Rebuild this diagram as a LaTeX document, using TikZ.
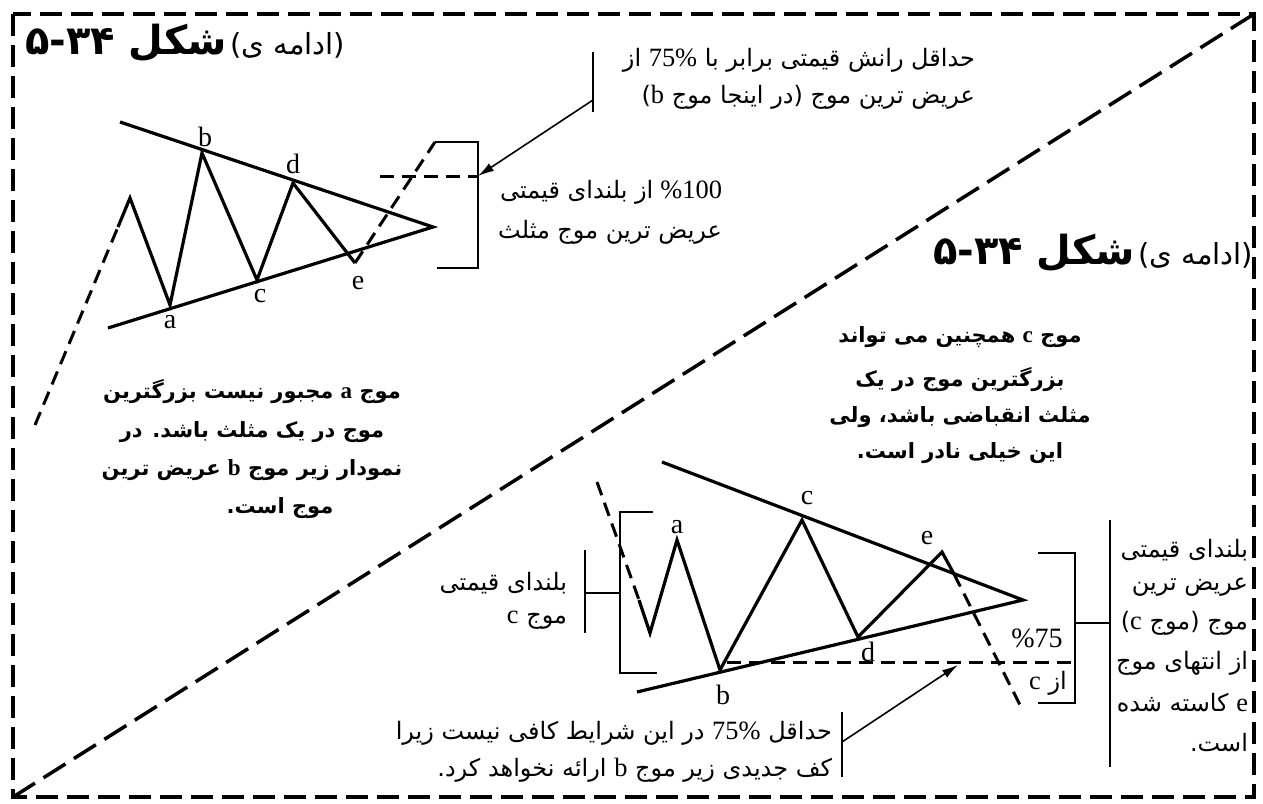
\documentclass[tikz,border=0pt]{standalone}
\usepackage{fontspec}
\TeXXeTstate=1
\newfontfamily\arabicfont[Script=Arabic]{DejaVu Sans}
\newfontfamily\lat[Scale=1.1]{Liberation Serif}
\newfontfamily\serifl{Liberation Serif}
\usetikzlibrary{arrows.meta}
\newcommand\fa[1]{{\arabicfont\beginR #1\endR}}
\newcommand\la[1]{\beginL{\lat #1}\endL}
\begin{document}
\begin{tikzpicture}[x=1pt,y=-1pt,
  every node/.style={inner sep=0pt,outer sep=0pt},
  txt/.style={font=\fontsize{24}{28}\selectfont},
  txtb/.style={font=\fontsize{21}{25}\selectfont\bfseries},
  lab/.style={font=\serifl\fontsize{28}{30}\selectfont},
  frame/.style={line width=4pt,dash pattern=on 22pt off 9pt},
  diag/.style={line width=3.5pt,dash pattern=on 26pt off 10pt},
  wave/.style={line width=3.2pt,line join=miter},
  dwave/.style={line width=3pt,dash pattern=on 14pt off 8pt},
  brk/.style={line width=2.8pt},
  arr/.style={line width=1.6pt,-{Latex[length=16pt,width=9pt]}}]
\useasboundingbox (0,0) rectangle (1263,803);
\fill[white] (0,0) rectangle (1263,803);
% frame and diagonal
\coordinate (fbl) at (13,797); \coordinate (ftr) at (1254,14);
\draw[frame] (13,14) rectangle (1254,797);
\draw[diag] (fbl) -- (ftr);
% ---------- upper-left chart ----------
\coordinate (p0) at (35,425); \coordinate (p1) at (118,227); \coordinate (p2) at (130,198);
\coordinate (pa) at (170,305); \coordinate (pb) at (202,153); \coordinate (pc) at (257,280);
\coordinate (pd) at (293,183); \coordinate (pe) at (355,263); \coordinate (pap) at (433,227);
\coordinate (pt) at (120,122); \coordinate (pbot) at (108,328); \coordinate (pend) at (435,142);
\draw[dwave] (p0) -- (p1);
\draw[wave] (p1) -- (p2) -- (pa) -- (pb) -- (pc) -- (pd) -- (pe);
\draw[wave] (pt) -- (pap) -- (pbot);
\draw[dwave] (pe) -- (pend);
\coordinate (k1) at (478,142); \coordinate (k2) at (478,268); \coordinate (k3) at (437,268);
\coordinate (kd) at (380,176); \coordinate (kt) at (478,176);
\draw[brk] (pend) -- (k1) -- (k2) -- (k3);
\draw[dwave] (kd) -- (kt);
\node[lab] (la1) at (170,322) {a};
\node[lab] (lb1) at (205,137) {b};
\node[lab] (lc1) at (260,296) {c};
\node[lab] (ld1) at (293,164) {d};
\node[lab] (le1) at (358,283) {e};
% arrow from top-right note
\coordinate (bt1) at (593,52); \coordinate (bt2) at (593,112); \coordinate (bta) at (593,100);
\draw[brk,line width=2.2pt] (bt1) -- (bt2);
\draw[arr] (bta) -- (kt);
% texts upper
\node[txt,anchor=east] (tr1) at (975,60) {\fa{حداقل رانش قیمتی برابر با \la{75\%} از}};
\node[txt,anchor=east] (tr2) at (975,97) {\fa{عریض ترین موج (در اینجا موج \la{b})}};
\node[font=\lat\fontsize{24}{28}\selectfont,anchor=base east] (tm1n) at (722,198) {\%100};
\node[txt,anchor=base east,xshift=-7pt] (tm1) at (tm1n.base west) {\fa{از بلندای قیمتی}};
\node[txt,anchor=east] (tm2) at (722,232) {\fa{عریض ترین موج مثلث}};
\node[txtb] (l1) at (252,392) {\fa{موج \la{a} مجبور نیست بزرگترین}};
\node[txtb] (l2) at (252,432) {\fa{موج در یک مثلث باشد. در}};
\node[txtb] (l3) at (252,470) {\fa{نمودار زیر موج \la{b} عریض ترین}};
\node[txtb] (l4) at (280,508) {\fa{موج است.}};
% titles
\node[anchor=west] (title1) at (25,43) {\fa{{\fontsize{29}{32}\selectfont (ادامه ی)} {\bfseries\fontsize{40}{44}\selectfont شکل \beginL ۵-۳۴\endL}}};
\node[anchor=east] (title2) at (1253,253) {\fa{{\fontsize{29}{32}\selectfont (ادامه ی)} {\bfseries\fontsize{40}{44}\selectfont شکل \beginL ۵-۳۴\endL}}};
% middle text
\node[txtb] (m1) at (960,337) {\fa{موج \la{c} همچنین می تواند}};
\node[txtb] (m2) at (960,380) {\fa{بزرگترین موج در یک}};
\node[txtb] (m3) at (960,417) {\fa{مثلث انقباضی باشد، ولی}};
\node[txtb] (m4) at (960,453) {\fa{این خیلی نادر است.}};
% ---------- lower-right chart ----------
\coordinate (q0) at (597,482); \coordinate (q1) at (639,600); \coordinate (q2) at (650,633);
\coordinate (qa) at (677,540); \coordinate (qb) at (720,670); \coordinate (qc) at (802,520);
\coordinate (qd) at (858,637); \coordinate (qe) at (942,552); \coordinate (q3) at (954,574);
\coordinate (qend) at (1020,705); \coordinate (qt) at (662,462); \coordinate (qap) at (1023,600);
\coordinate (qbot) at (637,692);
\draw[dwave] (q0) -- (q1);
\draw[wave] (q1) -- (q2) -- (qa) -- (qb) -- (qc) -- (qd) -- (qe) -- (q3);
\draw[dwave] (q3) -- (qend);
\draw[wave] (qt) -- (qap) -- (qbot);
\node[lab] (la2) at (677,527) {a};
\node[lab] (lb2) at (723,695) {b};
\node[lab] (lc2) at (807,498) {c};
\node[lab] (ld2) at (868,652) {d};
\node[lab] (le2) at (927,538) {e};
% left bracket
\coordinate (s1) at (653,512); \coordinate (s2) at (620,512); \coordinate (s3) at (620,673); \coordinate (s4) at (657,673);
\coordinate (s5) at (620,593); \coordinate (s6) at (585,593); \coordinate (s7) at (585,550); \coordinate (s8) at (585,633);
\draw[brk] (s1) -- (s2) -- (s3) -- (s4);
\draw[brk] (s5) -- (s6);
\draw[brk] (s7) -- (s8);
\node[txt,anchor=east] (bl1) at (567,583) {\fa{بلندای قیمتی}};
\node[txt,anchor=east] (bl2) at (567,620) {\fa{موج \la{c}}};
% dashed 75% line and right bracket
\coordinate (h1) at (727,662); \coordinate (h2) at (1075,662);
\draw[dwave] (h1) -- (h2);
\coordinate (r1) at (1038,553); \coordinate (r2) at (1075,553); \coordinate (r3) at (1075,703); \coordinate (r4) at (1038,703);
\coordinate (r5) at (1075,623); \coordinate (r6) at (1110,623); \coordinate (r7) at (1110,520); \coordinate (r8) at (1110,767);
\draw[brk] (r1) -- (r2) -- (r3) -- (r4);
\draw[brk] (r5) -- (r6);
\draw[brk] (r7) -- (r8);
\node[font=\serifl\fontsize{28}{30}\selectfont] (p75) at (1037,638) {\%75};
\node[txt] (azc) at (1048,683) {\fa{از \la{c}}};
\node[txt,anchor=east] (rt1) at (1248,550) {\fa{بلندای قیمتی}};
\node[txt,anchor=east] (rt2) at (1248,587) {\fa{عریض ترین}};
\node[txt,anchor=east] (rt3) at (1248,623) {\fa{موج (موج \la{c})}};
\node[txt,anchor=east] (rt4) at (1248,663) {\fa{از انتهای موج}};
\node[txt,anchor=east] (rt5) at (1248,703) {\fa{\la{e} کاسته شده}};
\node[txt,anchor=east] (rt6) at (1248,743) {\fa{است.}};
% bottom note and arrow
\coordinate (u1) at (842,712); \coordinate (u2) at (842,777); \coordinate (ua) at (842,742); \coordinate (ut) at (958,665);
\draw[brk,line width=2.2pt] (u1) -- (u2);
\draw[arr] (ua) -- (ut);
\node[txt,anchor=east] (bn1) at (832,733) {\fa{حداقل \la{75\%} در این شرایط کافی نیست زیرا}};
\node[txt,anchor=east] (bn2) at (832,770) {\fa{کف جدیدی زیر موج \la{b} ارائه نخواهد کرد.}};
\end{tikzpicture}
\end{document}
